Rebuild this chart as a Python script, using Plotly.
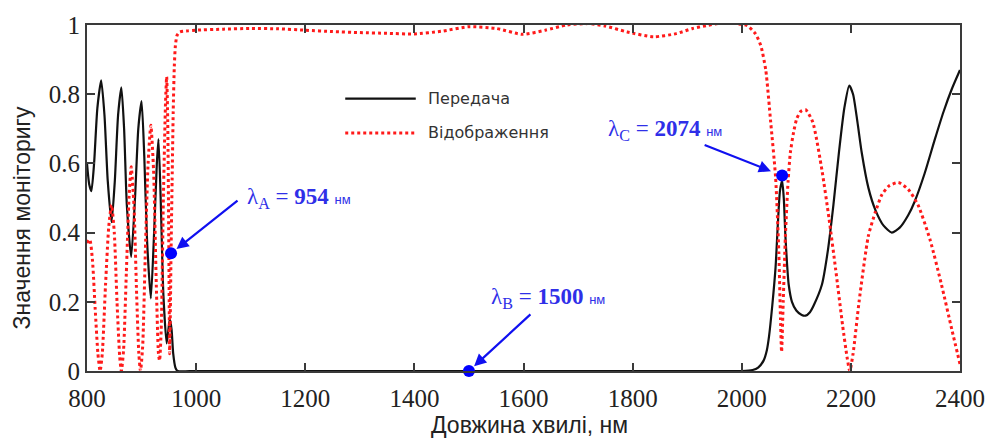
import plotly.graph_objects as go

# Transmission spectrum (wavelength in nm, monitor value)
trans_wl = [800, 804, 808, 813, 819, 826, 832, 838, 845, 851, 857, 863, 868, 873, 881,
            888, 894, 900, 905, 910, 917, 923, 928, 931, 935, 940, 946, 950, 952, 955,
            958, 962, 966, 1000, 1200, 1400, 1600, 1800, 2000, 2020, 2030, 2040, 2046,
            2050, 2056, 2062, 2066, 2070, 2074, 2077, 2080, 2083, 2086, 2092, 2100, 2110,
            2117, 2125, 2132, 2147, 2158, 2168, 2178, 2188, 2197, 2204, 2212, 2220, 2232,
            2245, 2260, 2275, 2290, 2305, 2317, 2335, 2354, 2370, 2385, 2400]
trans_val = [0.60, 0.54, 0.52, 0.60, 0.76, 0.84, 0.74, 0.55, 0.43, 0.55, 0.74, 0.82, 0.70,
             0.48, 0.33, 0.50, 0.70, 0.78, 0.62, 0.38, 0.21, 0.40, 0.60, 0.67, 0.50, 0.22,
             0.08, 0.13, 0.15, 0.12, 0.05, 0.01, 0.0, 0.0, 0.0, 0.0, 0.0, 0.0, 0.0, 0.003,
             0.01, 0.03, 0.06, 0.10, 0.19, 0.30, 0.42, 0.52, 0.55, 0.50, 0.39, 0.31, 0.25,
             0.20, 0.175, 0.162, 0.16, 0.17, 0.19, 0.25, 0.35, 0.48, 0.63, 0.76, 0.825,
             0.80, 0.72, 0.63, 0.53, 0.465, 0.42, 0.40, 0.415, 0.45, 0.49, 0.57, 0.67, 0.75,
             0.815, 0.87]

# Reflection spectrum
refl_wl = [800, 805, 810, 815, 820, 824, 828, 834, 840, 845, 850, 855, 860, 863, 867, 872,
           877, 881, 886, 891, 895, 898, 902, 907, 912, 917, 922, 927, 931, 933, 936, 940,
           944, 946, 948, 950, 951.5, 953, 954, 956, 958, 960, 962, 965, 970, 985, 1000,
           1050, 1100, 1150, 1200, 1250, 1300, 1350, 1400, 1450, 1500, 1550, 1598, 1640,
           1680, 1720, 1750, 1790, 1838, 1880, 1910, 1935, 1960, 1990, 2010, 2025, 2035,
           2044, 2053, 2062, 2068, 2071, 2073, 2076, 2080, 2085, 2089, 2095, 2101, 2108,
           2117, 2130, 2147, 2160, 2172, 2185, 2193, 2198, 2204, 2215, 2232, 2245, 2257,
           2270, 2287, 2305, 2323, 2345, 2366, 2385, 2400]
refl_val = [0.37, 0.38, 0.32, 0.18, 0.05, 0.0, 0.05, 0.25, 0.42, 0.48, 0.40, 0.20, 0.04,
            0.0, 0.06, 0.28, 0.50, 0.59, 0.48, 0.22, 0.05, 0.0, 0.07, 0.35, 0.60, 0.71,
            0.58, 0.25, 0.05, 0.03, 0.12, 0.50, 0.78, 0.85, 0.72, 0.35, 0.05, 0.20, 0.34,
            0.55, 0.75, 0.88, 0.94, 0.97, 0.98, 0.983, 0.985, 0.988, 0.99, 0.989, 0.985,
            0.981, 0.978, 0.976, 0.974, 0.982, 0.995, 0.99, 0.973, 0.985, 1.0, 1.004, 0.997,
            0.98, 0.966, 0.975, 0.99, 0.998, 1.005, 1.004, 0.998, 0.975, 0.94, 0.87, 0.72,
            0.56, 0.34, 0.15, 0.055, 0.20, 0.39, 0.55, 0.63, 0.69, 0.73, 0.75, 0.755, 0.72,
            0.58, 0.44, 0.295, 0.13, 0.04, 0.0, 0.05, 0.20, 0.39, 0.46, 0.51, 0.535, 0.545,
            0.525, 0.48, 0.38, 0.25, 0.12, 0.02]

# Marked wavelengths
mark_wl = [954, 1500, 2074]
mark_val = [0.34, 0.0, 0.565]
mark_sub = ["A", "B", "C"]

series_names = ["Передача", "Відображення"]
x_title = "Довжина хвилі, нм"
y_title = "Значення моніторигу"
x_ticks = [800, 1000, 1200, 1400, 1600, 1800, 2000, 2200, 2400]
y_ticks = [0, 0.2, 0.4, 0.6, 0.8, 1]

BLUE = "#2f2fe8"
FRAME = "#3a3a3a"
TITLE_FONT = dict(family="Liberation Sans", size=23, color="#222222")

fig = go.Figure()
fig.add_trace(go.Scatter(x=trans_wl, y=trans_val, mode="lines", name=series_names[0],
                         line=dict(color="#111111", width=2.2, shape="spline", smoothing=0.6),
                         showlegend=False))
fig.add_trace(go.Scatter(x=refl_wl, y=refl_val, mode="lines", name=series_names[1],
                         line=dict(color="#ff1a1a", width=3, dash="dot", shape="spline",
                                   smoothing=0.6),
                         showlegend=False))
fig.add_trace(go.Scatter(x=mark_wl, y=mark_val, mode="markers", showlegend=False,
                         marker=dict(color="#0000ff", size=12), cliponaxis=False))

# Arrow offsets (px) of the label tails from each marked point, and label anchors
arrow_tail = [(68, -54), (63, -58), (-79, -31)]
arrow_standoff = [7, 7, 12]
label_pos = [(1090, 0.50), (1537, 0.21), (1751, 0.697)]

for wl, val, sub, (ax, ay), so, (lx, ly) in zip(mark_wl, mark_val, mark_sub, arrow_tail,
                                                arrow_standoff, label_pos):
    fig.add_annotation(x=wl, y=val, xref="x", yref="y", ax=ax, ay=ay, text="",
                       showarrow=True, arrowhead=2, arrowsize=1.1, arrowwidth=2.2,
                       arrowcolor="#1010f0", standoff=so)
    fig.add_annotation(x=lx, y=ly, xref="x", yref="y", xanchor="left", yanchor="middle",
                       showarrow=False,
                       text=f"λ<sub>{sub}</sub> = <b>{wl}</b> "
                            f"<span style='font-family:Liberation Sans;font-size:13px'>нм</span>",
                       font=dict(family="Liberation Serif", size=23, color=BLUE))

# Legend drawn inside the plot area
leg_y = [0.7875, 0.688]
leg_style = [dict(color="#111111", width=2.2), dict(color="#ff1a1a", width=3, dash="dot")]
for name, ly, st in zip(series_names, leg_y, leg_style):
    fig.add_shape(type="line", xref="paper", yref="paper", x0=0.2958, x1=0.3766, y0=ly, y1=ly,
                  line=st)
    fig.add_annotation(x=0.388, y=ly, xref="paper", yref="paper", xanchor="left",
                       yanchor="middle", showarrow=False, text=name,
                       font=dict(family="DejaVu Sans", size=16, color="#333333"))

# Axis titles
fig.add_annotation(x=0.5065, y=-0.156, xref="paper", yref="paper", showarrow=False,
                   xanchor="center", yanchor="middle", text=x_title, font=TITLE_FONT)
fig.add_annotation(x=-0.074, y=0.442, xref="paper", yref="paper", showarrow=False,
                   xanchor="center", yanchor="middle", textangle=-90, text=y_title,
                   font=TITLE_FONT)

axis_common = dict(showline=True, linecolor=FRAME, linewidth=2, mirror="ticks",
                   ticks="inside", ticklen=8, tickwidth=2, tickcolor=FRAME,
                   showgrid=False, zeroline=False,
                   tickfont=dict(family="Liberation Serif", size=25, color="#222222"))

fig.update_xaxes(range=[800, 2400], tickvals=x_ticks, ticklabelstandoff=4, **axis_common)
fig.update_yaxes(range=[0, 1], tickvals=y_ticks, **axis_common)

fig.update_layout(width=997, height=441, margin=dict(l=87, r=31, t=18, b=70),
                  plot_bgcolor="white", paper_bgcolor="white")

fig.write_html("out.html")
